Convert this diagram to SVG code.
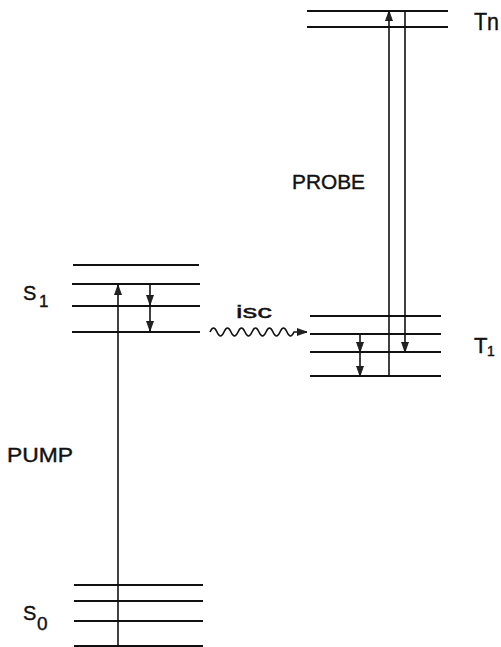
<svg xmlns="http://www.w3.org/2000/svg" width="501" height="647" viewBox="0 0 501 647">
<style>
.lvl{stroke:#111;stroke-width:1.9;fill:none}
.con{stroke:#111;stroke-width:1.6;fill:none}
.lbl{font-family:"Liberation Sans",Arial,sans-serif;fill:#111;stroke:#111;stroke-width:0.4}
</style>
<defs>
<marker id="ah" markerUnits="userSpaceOnUse" markerWidth="11" markerHeight="9" refX="10" refY="4" orient="auto">
<path d="M0,0.5 L10,4 L0,7.5 z" fill="#222" stroke="#111" stroke-width="0.8"/>
</marker>
</defs>
<rect width="501" height="647" fill="#fff"/>
<g id="S1">
<path class="lvl" d="M73,265H199M72,284H200M72,306H200M72,332H200"/>
<text class="lbl" x="23" y="300" font-size="20">S</text>
<text class="lbl" x="39" y="307" font-size="17">1</text>
</g>
<g id="S0">
<path class="lvl" d="M74,585H203M74,601H203M74,621H203M74,646H203"/>
<text class="lbl" x="23" y="620" font-size="20">S</text>
<text class="lbl" x="37" y="630" font-size="19">0</text>
</g>
<g id="T1">
<path class="lvl" d="M310,316H441M310,334H441M310,352H441M310,376H441"/>
<text class="lbl" x="474" y="353" font-size="22">T</text>
<text class="lbl" x="487" y="356" font-size="14">1</text>
</g>
<g id="Tn">
<path class="lvl" d="M307,11H448M307,27H448"/>
<text class="lbl" x="474" y="30" font-size="24" textLength="25" lengthAdjust="spacingAndGlyphs">Tn</text>
</g>
<g id="labels">
<text class="lbl" x="7" y="462" font-size="20" textLength="66" lengthAdjust="spacingAndGlyphs">PUMP</text>
<text class="lbl" x="292" y="189" font-size="20" textLength="73" lengthAdjust="spacingAndGlyphs">PROBE</text>
<text class="lbl" x="236" y="318" font-size="19" textLength="36" lengthAdjust="spacingAndGlyphs">isc</text>
</g>
<g id="connectors">
<path class="con" d="M118,646V285" marker-end="url(#ah)"/>
<path class="con" d="M150,284V305" marker-end="url(#ah)"/>
<path class="con" d="M150,306V331" marker-end="url(#ah)"/>
<path class="con" d="M360,334V352" marker-end="url(#ah)"/>
<path class="con" d="M360,352V376" marker-end="url(#ah)"/>
<path class="con" d="M389,376V11" marker-end="url(#ah)"/>
<path class="con" d="M405,11V352" marker-end="url(#ah)"/>
<path class="con" stroke-width="1.8" d="M210,332 q3.5,-8 7,0 t7,0 t7,0 t7,0 t7,0 t7,0 t7,0 t7,0 t7,0 t7,0 t7,0 t7,0 L307,332" marker-end="url(#ah)"/>
</g>
</svg>
